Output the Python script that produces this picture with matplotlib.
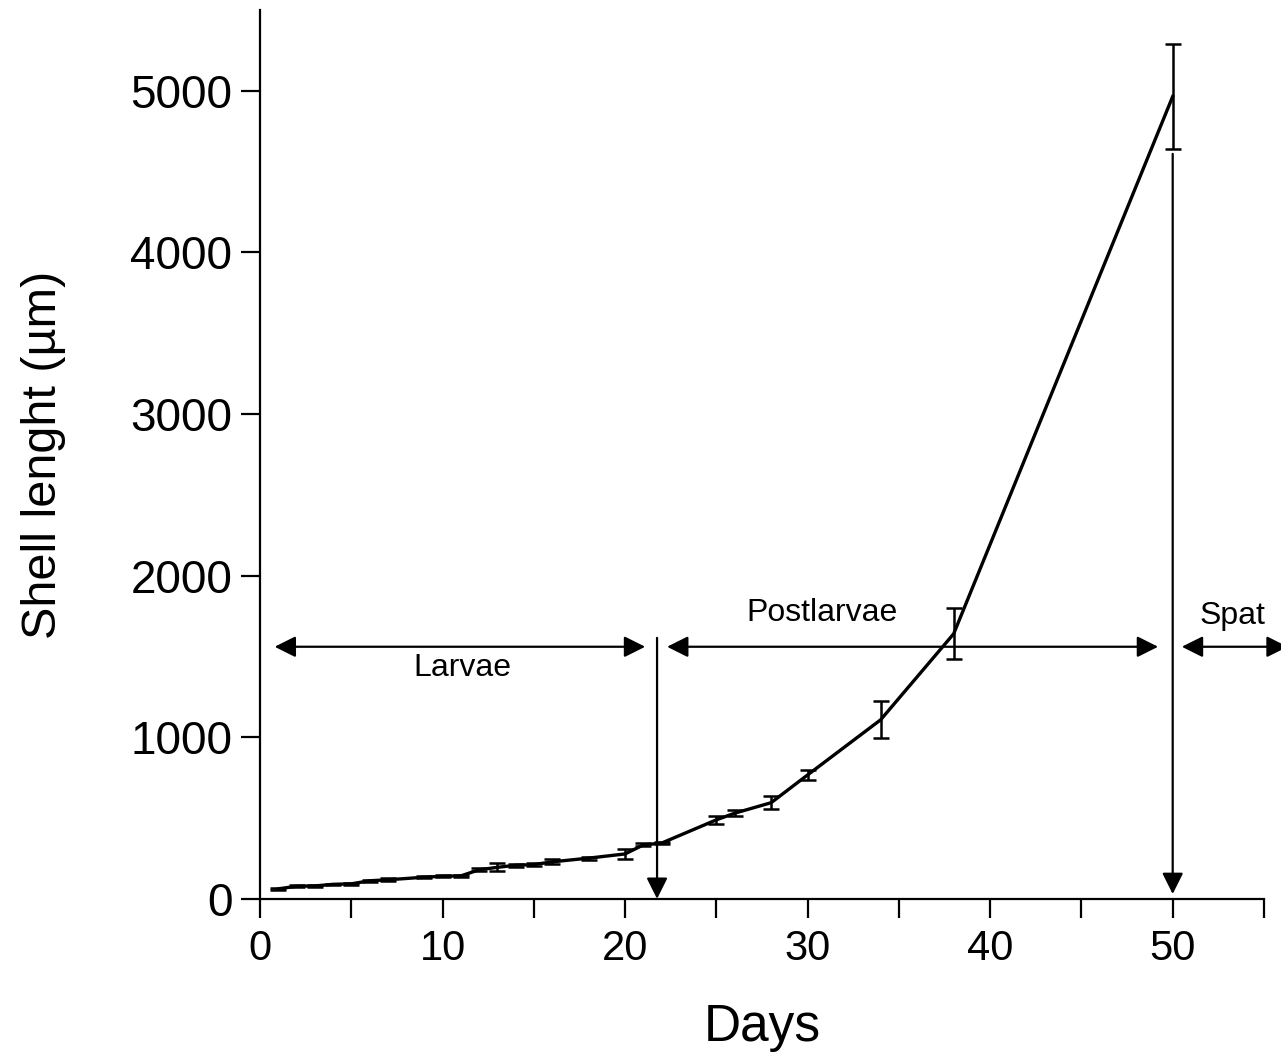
import numpy as np
import matplotlib
matplotlib.use("Agg")
import matplotlib.pyplot as plt

#Data:-------------------------------------------------------------------------

days = [1, 2, 3, 4, 5, 6, 7, 9, 10, 11, 12, 13, 14, 15, 16, 18, 20, 21, 22,
        25, 26, 28, 30, 34, 38, 50]
shell = [62, 78, 80, 90, 93, 112, 118, 134, 140, 142, 180, 195, 208, 212, 229,
         252, 278, 334, 345, 489, 530, 595, 767, 1108, 1640, 4965]
error = [5, 5, 5, 5, 5, 5, 8, 8, 5, 5, 10, 25, 10, 10, 15, 10, 30, 10, 5,
         25, 20, 40, 30, 115, 158, 322]

phases = ["Larvae", "Postlarvae", "Spat"]
phase_start = [0.8, 22.3, 50.5]
phase_end = [21.1, 49.2, 56.3]
phase_y = [1560, 1560, 1560]
label_x = [11.1, 30.8, 53.3]
label_y = [1430, 1770, 1750]

#Figure:-----------------------------------------------------------------------

plt.rcParams['font.family'] = ['Liberation Sans', 'DejaVu Sans']

fig = plt.figure(figsize=(12.81, 10.55), dpi=100)
ax = fig.add_axes([0.203, 0.148, 0.7837, 0.8425])

ax.errorbar(days, shell, yerr=error, color='black', linewidth=2.4,
            elinewidth=1.8, capsize=6, capthick=1.8)

#Phase arrows:
for name, x0, x1, y, tx, ty in zip(phases, phase_start, phase_end, phase_y,
                                   label_x, label_y):
    ax.annotate('', xy=(x0, y), xytext=(x1, y), annotation_clip=False,
                arrowprops=dict(arrowstyle='<|-|>', color='black', lw=1.6,
                                mutation_scale=32, shrinkA=0, shrinkB=0))
    ax.text(tx, ty, name, fontsize=23, ha='center', va='center')

#Vertical markers:
ax.annotate('', xy=(21.75, 0), xytext=(21.75, 1615),
            arrowprops=dict(arrowstyle='-|>', color='black', lw=1.6,
                            mutation_scale=32, shrinkA=0, shrinkB=0))
ax.annotate('', xy=(50, 30), xytext=(50, 4610),
            arrowprops=dict(arrowstyle='-|>', color='black', lw=1.6,
                            mutation_scale=32, shrinkA=0, shrinkB=0))

ax.set_xlim(0, 55)
ax.set_ylim(0, 5500)
ax.set_xticks(np.arange(0, 56, 5))
ax.set_xticklabels([str(v) if v % 10 == 0 else '' for v in range(0, 56, 5)])
ax.set_yticks(np.arange(0, 5001, 1000))

for side in ['top', 'right']:
    ax.spines[side].set_visible(False)
for side in ['left', 'bottom']:
    ax.spines[side].set_linewidth(1.6)

ax.tick_params(direction='out', length=14, width=1.6, pad=6)
ax.tick_params(axis='x', labelsize=30, pad=8)
ax.tick_params(axis='y', labelsize=33)

ax.set_xlabel("Days", fontsize=37, labelpad=24)
ax.set_ylabel("Shell lenght (µm)", fontsize=35, labelpad=46)

fig.savefig("out.png", dpi=100)
